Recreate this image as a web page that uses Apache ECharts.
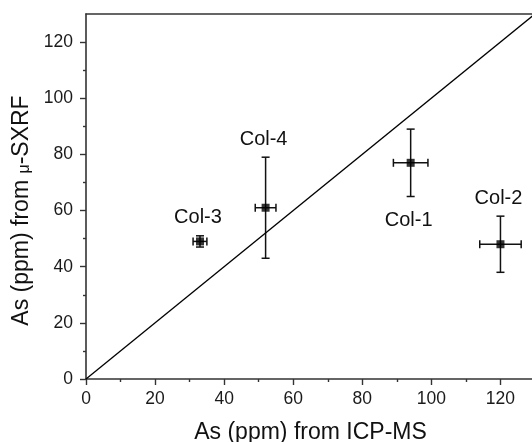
<!DOCTYPE html>
<html>
<head>
<meta charset="utf-8">
<script src="https://cdn.jsdelivr.net/npm/echarts@6/dist/echarts.min.js"></script>
<style>
html,body{margin:0;padding:0;background:#fff;}
#chart{width:532px;height:442px;}
</style>
</head>
<body>
<div id="chart"></div>
<script>
// ---- data ----
const sampleNames = ['Col-1', 'Col-2', 'Col-3', 'Col-4'];
const icpms = [94, 120, 33, 52];          // x values (ppm)
const sxrf = [77, 48, 49, 61];            // y values (ppm)
const icpmsErr = [5, 6, 2, 3];            // x error
const sxrfErr = [12, 10, 2, 18];          // y error
const labelSide = ['bottom', 'top', 'top', 'top'];
const majorTicks = [0, 20, 40, 60, 80, 100, 120];
const minorTicks = [10, 30, 50, 70, 90, 110];
const diagonal = [[0, 0], [130, 130]];
const axisMin = 0, axisMax = 130;

const FONT = 'Liberation Sans, Arial, sans-serif';
const chart = echarts.init(document.getElementById('chart'), null, {renderer: 'canvas'});

const points = icpms.map((x, i) => [x, sxrf[i]]);
const errData = icpms.map((x, i) => [x, sxrf[i], icpmsErr[i], sxrfErr[i]]);

function renderErr(params, api) {
  const x = api.value(0), y = api.value(1), ex = api.value(2), ey = api.value(3);
  const c = api.coord([x, y]);
  const l = api.coord([x - ex, y]), r = api.coord([x + ex, y]);
  const t = api.coord([x, y + ey]), b = api.coord([x, y - ey]);
  const cap = 4;
  const st = {stroke: '#111', lineWidth: 1.5};
  const line = (x1, y1, x2, y2) => ({type: 'line', shape: {x1, y1, x2, y2}, style: st});
  const side = labelSide[params.dataIndex];
  const ly = side === 'top' ? t[1] - 18 : b[1] + 24;
  return {
    type: 'group',
    children: [
      line(l[0], c[1], r[0], c[1]),
      line(c[0], t[1], c[0], b[1]),
      line(l[0], c[1] - cap, l[0], c[1] + cap),
      line(r[0], c[1] - cap, r[0], c[1] + cap),
      line(c[0] - cap, t[1], c[0] + cap, t[1]),
      line(c[0] - cap, b[1], c[0] + cap, b[1]),
      {
        type: 'text',
        style: {
          text: sampleNames[params.dataIndex], x: c[0] - 2, y: ly,
          align: 'center', verticalAlign: 'middle',
          fill: '#111', font: '20px ' + FONT
        }
      }
    ]
  };
}

const baseAxis = {
  min: axisMin, max: axisMax, splitLine: {show: false}
};

const option = {
  animation: false,
  backgroundColor: '#fff',
  grid: {left: 86, top: 14, width: 449, height: 365, containLabel: false, outerBoundsMode: 'none'},
  xAxis: [
    Object.assign({}, baseAxis, {
      type: 'value', position: 'bottom',
      name: 'As (ppm) from ICP-MS', nameLocation: 'middle', nameGap: 42,
      nameTextStyle: {fontSize: 23, fontFamily: FONT, color: '#111'},
      axisLine: {show: true, onZero: false, lineStyle: {color: '#333', width: 1.6}},
      axisTick: {show: true, length: 6, customValues: majorTicks, lineStyle: {color: '#333', width: 1.4}},
      axisLabel: {show: true, customValues: majorTicks, margin: 11, fontSize: 17.5, fontFamily: FONT, color: '#1a1a1a'}
    }),
    Object.assign({}, baseAxis, {
      type: 'value', position: 'bottom',
      axisLine: {show: false, onZero: false},
      axisTick: {show: true, length: 3, customValues: minorTicks, lineStyle: {color: '#333', width: 1.4}},
      axisLabel: {show: false}
    }),
    Object.assign({}, baseAxis, {
      type: 'value', position: 'top',
      axisLine: {show: true, onZero: false, lineStyle: {color: '#333', width: 1.6}},
      axisTick: {show: false}, axisLabel: {show: false}
    })
  ],
  yAxis: [
    Object.assign({}, baseAxis, {
      type: 'value', position: 'left',
      name: '{a|As (ppm) from }{m|μ}{a|-SXRF}', nameLocation: 'middle', nameGap: 51,
      nameTextStyle: {
        padding: [0, 28, 0, 0],
        rich: {
          a: {fontSize: 23, fontFamily: FONT, color: '#111'},
          m: {fontSize: 16, fontFamily: FONT, color: '#111', verticalAlign: 'bottom', padding: [7, 0, 0, 0]}
        }
      },
      axisLine: {show: true, onZero: false, lineStyle: {color: '#333', width: 1.6}},
      axisTick: {show: true, length: 6, customValues: majorTicks, lineStyle: {color: '#333', width: 1.4}},
      axisLabel: {show: true, customValues: majorTicks, margin: 13, fontSize: 17.5, fontFamily: FONT, color: '#1a1a1a'}
    }),
    Object.assign({}, baseAxis, {
      type: 'value', position: 'left',
      axisLine: {show: false, onZero: false},
      axisTick: {show: true, length: 3, customValues: minorTicks, lineStyle: {color: '#333', width: 1.4}},
      axisLabel: {show: false}
    })
  ],
  series: [
    {
      type: 'line', data: diagonal, xAxisIndex: 0, yAxisIndex: 0,
      symbol: 'none', lineStyle: {color: '#000', width: 1.3}, silent: true, clip: true
    },
    {
      type: 'custom', data: errData, xAxisIndex: 0, yAxisIndex: 0,
      renderItem: renderErr, encode: {x: [0], y: [1]}, clip: false, z: 3
    },
    {
      type: 'scatter', data: points, xAxisIndex: 0, yAxisIndex: 0,
      symbol: 'rect', symbolSize: 8, itemStyle: {color: '#000'}, z: 4
    }
  ]
};
chart.setOption(option);
</script>
</body>
</html>
